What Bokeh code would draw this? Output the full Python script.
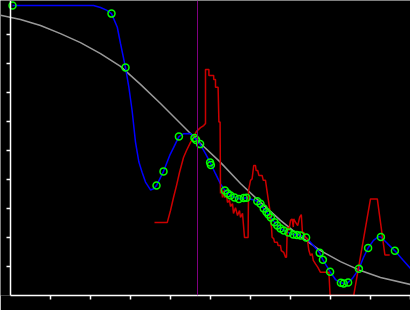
from bokeh.plotting import figure
from bokeh.models import Range1d, FixedTicker, Span
from bokeh.embed import file_html
from bokeh.resources import INLINE

# ---- data ----
marker_x = [0.05, 2.525, 2.875, 3.65, 3.825, 4.21, 4.6, 4.64, 4.74, 4.99, 5.01,
            5.36, 5.43, 5.5, 5.6, 5.71, 5.83, 5.9, 6.17, 6.25, 6.33, 6.4, 6.45,
            6.51, 6.6, 6.67, 6.75, 6.83, 6.95, 7.07, 7.16, 7.25, 7.39, 7.73,
            7.81, 7.99, 8.26, 8.33, 8.44, 8.71, 8.94, 9.26, 9.61]
marker_y = [1.000, 0.972, 0.786, 0.379, 0.428, 0.548, 0.543, 0.536, 0.522, 0.459, 0.450,
            0.362, 0.352, 0.345, 0.338, 0.333, 0.336, 0.337, 0.325, 0.316, 0.300, 0.288, 0.279,
            0.269, 0.253, 0.241, 0.231, 0.224, 0.217, 0.210, 0.209, 0.207, 0.200, 0.147,
            0.123, 0.082, 0.044, 0.041, 0.045, 0.092, 0.164, 0.202, 0.154]

fit_x = [0.05, 2.075, 2.25, 2.4, 2.525, 2.67, 2.75, 2.875, 2.96, 3.04, 3.125, 3.21,
         3.29, 3.375, 3.5, 3.58, 3.65, 3.825, 3.98, 4.08, 4.21, 4.33, 4.5, 4.6, 4.74,
         4.875, 4.99, 5.125, 5.25, 5.36, 5.5, 5.71, 5.9, 6.17, 6.33, 6.51, 6.67, 6.83,
         7.07, 7.25, 7.39, 7.55, 7.73, 7.81, 7.99, 8.125, 8.26, 8.33, 8.44, 8.55, 8.71,
         8.825, 8.94, 9.075, 9.2, 9.26, 9.425, 9.61, 9.8, 10.0]
fit_y = [1.000, 1.000, 0.993, 0.984, 0.972, 0.925, 0.869, 0.786, 0.718, 0.638, 0.529, 0.460,
         0.425, 0.391, 0.364, 0.368, 0.379, 0.428, 0.483, 0.511, 0.548, 0.558, 0.559, 0.543, 0.522,
         0.489, 0.459, 0.420, 0.385, 0.362, 0.345, 0.333, 0.337, 0.325, 0.300, 0.269, 0.241, 0.224,
         0.210, 0.207, 0.200, 0.176, 0.147, 0.123, 0.082, 0.055, 0.044, 0.041, 0.045, 0.059, 0.092,
         0.131, 0.164, 0.190, 0.203, 0.202, 0.179, 0.154, 0.124, 0.093]

raw_x = [3.6, 3.92, 4.0, 4.075, 4.15, 4.225, 4.325, 4.4, 4.5, 4.575, 4.65, 4.75, 4.83,
         4.875, 4.875, 4.96, 4.96, 5.08, 5.08, 5.125, 5.125, 5.19, 5.21, 5.24, 5.25,
         5.275, 5.3, 5.325, 5.35, 5.4, 5.425, 5.475, 5.5, 5.55, 5.575, 5.625, 5.675,
         5.725, 5.75, 5.8, 5.85, 5.94, 5.95, 6.0, 6.04, 6.08, 6.125, 6.14, 6.18, 6.21,
         6.29, 6.32, 6.375, 6.4, 6.46, 6.48, 6.5, 6.525, 6.54, 6.58, 6.6, 6.67, 6.69,
         6.75, 6.77, 6.83, 6.875, 6.9, 6.92, 6.96, 7.0, 7.04, 7.07, 7.08, 7.125, 7.18,
         7.23, 7.27, 7.3, 7.33, 7.375, 7.42, 7.43, 7.46, 7.5, 7.54, 7.57, 7.625, 7.68,
         7.75, 7.96, 7.99, 8.58, 9.0, 9.17, 9.36, 9.48]
raw_y = [0.252, 0.252, 0.293, 0.338, 0.379, 0.424, 0.476, 0.500, 0.528, 0.545, 0.566, 0.579, 0.586,
         0.593, 0.779, 0.779, 0.759, 0.759, 0.745, 0.745, 0.718, 0.718, 0.598, 0.598, 0.352,
         0.369, 0.338, 0.362, 0.338, 0.345, 0.321, 0.328, 0.307, 0.317, 0.283, 0.303, 0.276,
         0.293, 0.269, 0.283, 0.200, 0.200, 0.362, 0.397, 0.402, 0.448, 0.448, 0.431, 0.431, 0.414,
         0.414, 0.397, 0.397, 0.373, 0.316, 0.299, 0.253, 0.236, 0.201, 0.196, 0.184, 0.184, 0.172,
         0.172, 0.155, 0.149, 0.132, 0.132, 0.236, 0.224, 0.259, 0.264, 0.236, 0.264, 0.253, 0.241,
         0.270, 0.279, 0.214, 0.218, 0.200, 0.196, 0.184, 0.155, 0.138, 0.144, 0.121, 0.109, 0.098,
         0.080, 0.080, 0.000, 0.000, 0.333, 0.333, 0.140, 0.140]

model_x = [-0.25, 0.25, 0.75, 1.25, 1.75, 2.25, 2.75, 3.25, 3.75, 4.25, 4.75, 5.25,
           5.75, 6.25, 6.75, 7.25, 7.75, 8.25, 8.75, 9.25, 10.0]
model_y = [0.966, 0.952, 0.931, 0.903, 0.872, 0.834, 0.790, 0.728, 0.662, 0.593, 0.524, 0.459,
           0.386, 0.321, 0.259, 0.203, 0.155, 0.117, 0.086, 0.062, 0.038]

marker_line_x = 4.675
x_ticks = [1, 2, 3, 4, 5, 6, 7, 8, 9, 10]
y_ticks = [0.1, 0.2, 0.3, 0.4, 0.5, 0.6, 0.7, 0.8, 0.9]

# ---- figure ----
p = figure(width=410, height=310, output_backend="svg", toolbar_location=None,
           x_range=Range1d(-0.25, 10.0), y_range=Range1d(0.0, 295.0 / 290.0),
           background_fill_color="black", border_fill_color="black",
           min_border_left=0, min_border_right=0, min_border_top=0, min_border_bottom=15)
p.outline_line_color = None
p.grid.visible = False

for ax in (p.xaxis, p.yaxis):
    ax.axis_line_color = "white"
    ax.axis_line_width = 1.5
    ax.major_tick_line_color = "white"
    ax.major_tick_line_width = 1.5
    ax.major_tick_out = 4
    ax.major_tick_in = 0
    ax.minor_tick_line_color = None
    ax.major_label_text_font_size = "1px"
    ax.major_label_text_color = None
    ax.major_label_standoff = 0

p.xaxis.ticker = FixedTicker(ticks=x_ticks)
p.xaxis.bounds = (0, 10)
p.yaxis.ticker = FixedTicker(ticks=y_ticks)
p.yaxis.fixed_location = 0

p.line(model_x, model_y, line_color="#999999", line_width=1.5)
p.line(fit_x, fit_y, line_color="#0000ff", line_width=1.5)
p.line(raw_x, raw_y, line_color="#cc0000", line_width=1.5)
p.scatter(marker_x, marker_y, marker="circle", size=7, fill_color=None,
          line_color="#00ff00", line_width=1.5)

p.add_layout(Span(location=marker_line_x, dimension="height",
                  line_color="#800080", line_width=1))

open("out.html", "w").write(file_html(p, INLINE))
